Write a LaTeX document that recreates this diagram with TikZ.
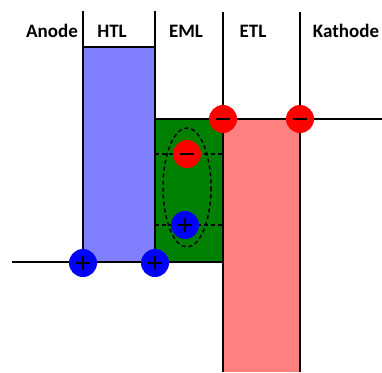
\documentclass[tikz,border=0pt]{standalone}
\usepackage{fontspec}
\setmainfont{Carlito}
\begin{document}
\begin{tikzpicture}[x=1pt,y=-1pt,
  lbl/.style={font=\fontsize{19}{22}\selectfont\bfseries, anchor=base},
  band/.style={line width=2pt},
  hole/.style={circle, fill={rgb,255:red,0;green,0;blue,255}, minimum size=28pt, inner sep=0pt,
    path picture={\draw[line width=1.6pt] ([xshift=-7pt]path picture bounding box.center) -- ([xshift=7pt]path picture bounding box.center);
                  \draw[line width=1.6pt] ([yshift=-7pt]path picture bounding box.center) -- ([yshift=7pt]path picture bounding box.center);}},
  elec/.style={circle, fill={rgb,255:red,255;green,0;blue,0}, minimum size=28pt, inner sep=0pt,
    path picture={\draw[line width=1.6pt] ([xshift=-7pt]path picture bounding box.center) -- ([xshift=7pt]path picture bounding box.center);}}
]
\useasboundingbox (0,0) rectangle (382,372);
% fills
\fill[fill={rgb,255:red,128;green,128;blue,255}] (83,47) rectangle (155,262);
\fill[fill={rgb,255:red,0;green,128;blue,0}] (155,119) rectangle (223,262);
\fill[fill={rgb,255:red,255;green,128;blue,128}] (223,119) rectangle (300,372);
% band lines
\draw[band] (83,11) -- (83,262);
\draw[band] (155,11) -- (155,262);
\draw[band] (223,12) -- (223,372);
\draw[band] (300,12) -- (300,372);
\draw[band] (83,47) -- (155,47);
\draw[band] (155,119) -- (382,119);
\draw[band] (12,262) -- (223,262);
% exciton
\draw[line width=1.5pt, dash pattern=on 4pt off 3pt] (155,154) -- (223,154);
\draw[line width=1.5pt, dash pattern=on 4pt off 3pt] (155,225) -- (223,225);
\draw[line width=1.5pt, dash pattern=on 4pt off 3pt] (187,187.5) ellipse [x radius=24, y radius=59.5];
% labels
\node[lbl] (anode) at (52,37) {Anode};
\node[lbl] (htl) at (112,37) {HTL};
\node[lbl] (eml) at (186,37) {EML};
\node[lbl] (etl) at (253,37) {ETL};
\node[lbl] (kath) at (346,37) {Kathode};
% carriers
\node[elec] (e1) at (223,119) {};
\node[elec] (e2) at (300,119) {};
\node[elec] (e3) at (187,154) {};
\node[hole] (h1) at (185,225) {};
\node[hole] (h2) at (83,263) {};
\node[hole] (h3) at (155,263) {};
\end{tikzpicture}
\end{document}
